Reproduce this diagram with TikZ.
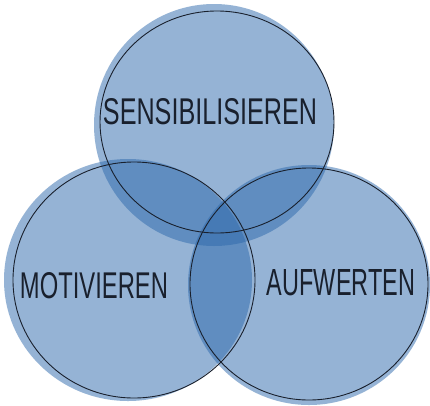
\documentclass[tikz,border=0pt]{standalone}
\usepackage{fontspec}
\setmainfont{Liberation Sans}
\usepackage{graphicx}
\definecolor{vennblue}{RGB}{45,105,172}
\definecolor{inkline}{RGB}{25,32,45}
\begin{document}
\begin{tikzpicture}[x=1pt,y=-1pt,
  blob/.style={fill=vennblue,fill opacity=0.5,draw=none},
  ring/.style={draw=inkline,line width=0.9pt,fill=none},
  label/.style={inner sep=0pt,text=inkline}]
\useasboundingbox[fill=white] (0,0) rectangle (430,405);
% filled discs
\fill[blob] (214,125) ellipse [x radius=120,y radius=121];
\fill[blob] (128,280) ellipse [x radius=124,y radius=121];
\fill[blob] (309,285) ellipse [x radius=121,y radius=120];
% hand-drawn outlines
\draw[ring] (217,122) ellipse [x radius=117,y radius=111];
\draw[ring] (134,280) ellipse [x radius=121,y radius=118];
\draw[ring] (309,284) ellipse [x radius=119,y radius=116];
% labels
\node[label] (sens) at (210,112) {\resizebox{214pt}{26pt}{SENSIBILISIEREN}};
\node[label] (moti) at (94,286) {\resizebox{148pt}{26pt}{MOTIVIEREN}};
\node[label] (aufw) at (341,283) {\resizebox{148pt}{26pt}{AUFWERTEN}};
\end{tikzpicture}
\end{document}
